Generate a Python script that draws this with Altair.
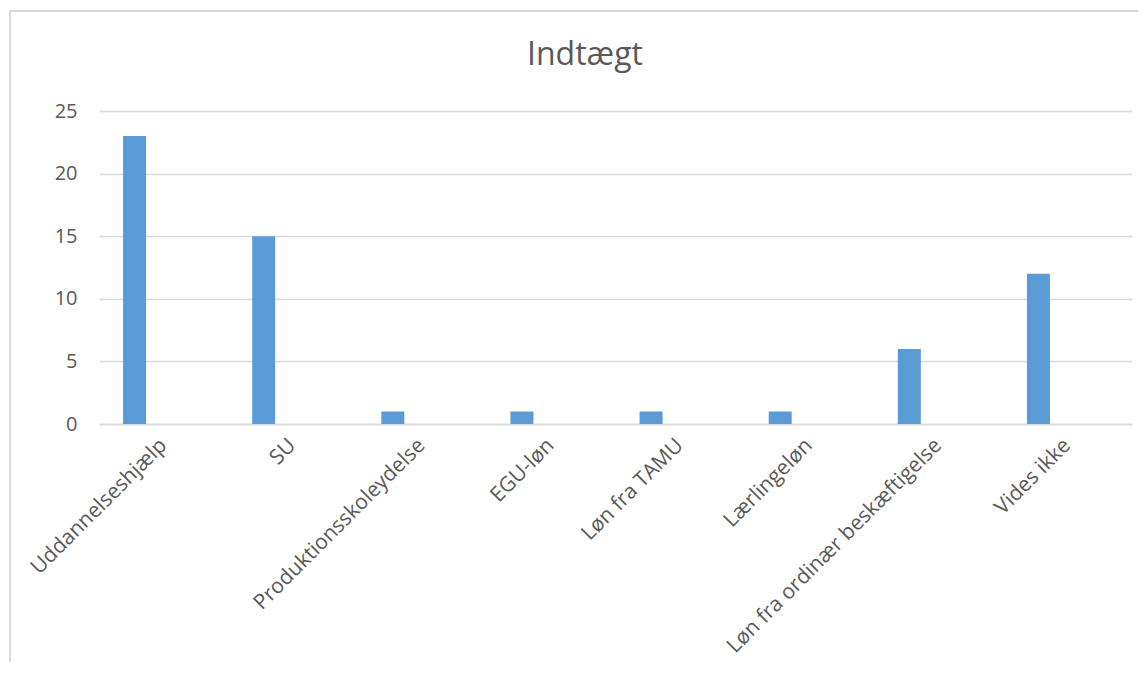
import altair as alt
import pandas as pd

categories = ["Uddannelseshjælp", "SU", "Produktionsskoleydelse", "EGU-løn",
              "Løn fra TAMU", "Lærlingeløn", "Løn fra ordinær beskæftigelse", "Vides ikke"]
values = [23, 15, 1, 1, 1, 1, 6, 12]
title_text = "Indtægt"

df = pd.DataFrame({"kategori": categories, "antal": values})

FONT = "Open Sans"
GREY = "#595959"

bars = alt.Chart(df).mark_bar(color="#5B9BD5", width=23, xOffset=-29).encode(
    x=alt.X("kategori:N", sort=categories, title=None,
            scale=alt.Scale(paddingInner=0, paddingOuter=0),
            axis=alt.Axis(labelAngle=-45, labelAlign="right", labelBaseline="middle",
                          labelPadding=18, ticks=False, domain=True, domainColor="#d9d9d9",
                          domainWidth=1.5, labelFont=FONT, labelFontSize=21,
                          labelColor=GREY, labelLimit=400)),
    y=alt.Y("antal:Q", title=None,
            scale=alt.Scale(domain=[0, 25]),
            axis=alt.Axis(values=[0, 5, 10, 15, 20, 25], grid=True, gridColor="#d9d9d9",
                          gridWidth=1.5, domain=False, ticks=False, labelPadding=22,
                          labelFont=FONT, labelFontSize=20, labelColor=GREY)),
)

frame = alt.Chart(df).mark_rect(fill=None, stroke="#d9d9d9", strokeWidth=1.5).encode(
    x=alt.value(-89), x2=alt.value(1060), y=alt.value(-100), y2=alt.value(700)
)

title = alt.Chart(pd.DataFrame({"t": [title_text]})).mark_text(
    font=FONT, fontSize=32, color=GREY, align="center", baseline="middle"
).encode(text="t:N", x=alt.value(486), y=alt.value(-56))

chart = alt.layer(frame, bars, title).properties(
    width=1033, height=313,
    autosize=alt.AutoSizeParams(type="none"),
    padding={"left": 91, "top": 103, "right": 6, "bottom": 238},
).configure_view(stroke=None)

chart.save("out.html", embed_options={"renderer": "svg", "actions": False})
